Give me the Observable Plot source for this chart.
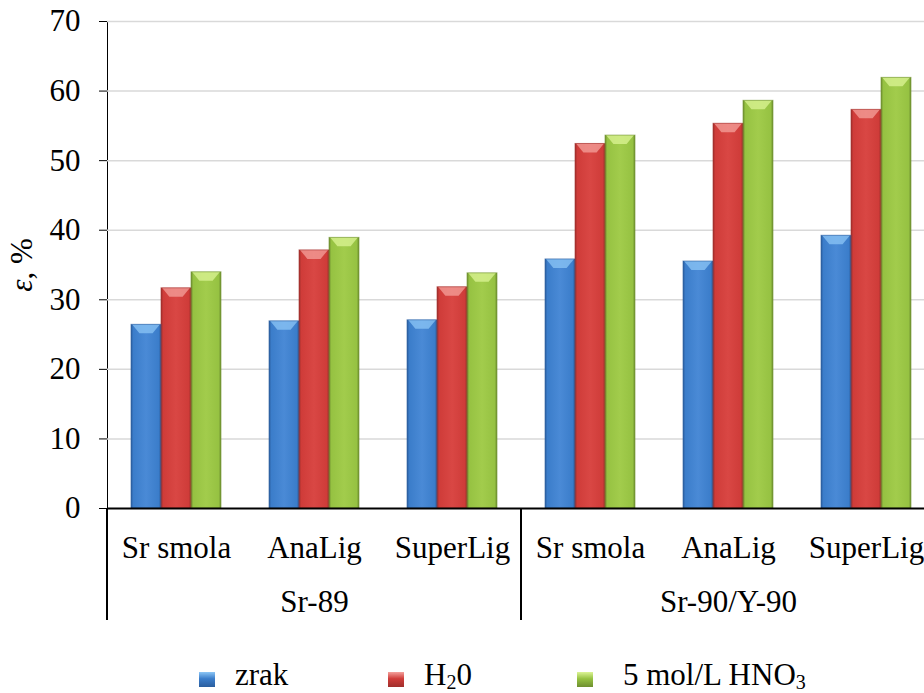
<!DOCTYPE html>
<html><head><meta charset="utf-8">
<script src="https://cdn.jsdelivr.net/npm/d3@7"></script>
<script src="https://cdn.jsdelivr.net/npm/@observablehq/plot@0.6"></script>
<style>
body{margin:0;background:#fff;font-family:"Liberation Serif","Times New Roman",serif;}
#wrap{position:relative;width:924px;height:693px;overflow:hidden;background:#fff;}
#legend{position:absolute;left:0;top:660px;display:flex;padding-left:199px;font-size:31px;line-height:30px;color:#000;white-space:nowrap;}
.item{width:189px;display:flex;align-items:flex-start;}
.sw{width:16px;height:15px;margin-top:12px;margin-right:20px;flex:none;}
.item:last-child .sw{margin-right:30px;}
sub{font-size:20px;vertical-align:-4px;line-height:0;}
#chart svg text{font-family:"Liberation Serif","Times New Roman",serif;}
</style></head><body><div id="wrap"><div id="chart"></div><div id="legend"></div></div>
<script>
const groups = ["Sr-89", "Sr-89", "Sr-89", "Sr-90/Y-90", "Sr-90/Y-90", "Sr-90/Y-90"];
const categories = ["Sr smola", "AnaLig", "SuperLig", "Sr smola", "AnaLig", "SuperLig"];
const seriesNames = ["zrak", "H2 0", "5 mol/L HNO3"];
const seriesLabels = ["zrak", "H<sub>2</sub>0", "5 mol/L HNO<sub>3</sub>"];
const zrak = [26.4, 26.9, 27.05, 35.8, 35.5, 39.2];
const h2o = [31.65, 37.1, 31.8, 52.4, 55.3, 57.3];
const hno3 = [33.95, 38.9, 33.8, 53.6, 58.6, 61.9];
const yTicks = [0, 10, 20, 30, 40, 50, 60, 70];
const groupNames = ["Sr-89", "Sr-90/Y-90"];

const seriesColors = [
  {id: "gBlue", dark: "#2b5e9e", main: "#3b7dca", light: "#4a8ad6", top: "#8cc6f6"},
  {id: "gRed", dark: "#a02f2c", main: "#cf3c39", light: "#d94744", top: "#f4a19c"},
  {id: "gGreen", dark: "#6e8f30", main: "#96c242", light: "#a2cc4c", top: "#dcf496"}
];

const keys = categories.map((c, i) => groups[i] + "|" + c);
const seriesValues = [zrak, h2o, hno3];
const rows = [];
keys.forEach((k, i) => seriesNames.forEach((s, j) => rows.push({key: k, series: s, si: j, value: seriesValues[j][i], fill: `url(#${seriesColors[j].id})`})));
const groupLabels = groupNames.map(g => ({key: keys[groups.indexOf(g) + 1], label: g}));

const plot = Plot.plot({
  width: 924, height: 650,
  marginLeft: 107, marginRight: -11, marginTop: 21, marginBottom: 142,
  style: {fontFamily: "'Liberation Serif', 'Times New Roman', serif", fontSize: "31px", color: "#000", background: "white", overflow: "hidden"},
  fx: {domain: keys, padding: 0, tickFormat: k => k.split("|")[1], tickSize: 0, tickPadding: 27, label: null, fontSize: 31},
  x: {domain: seriesNames, paddingInner: 0, paddingOuter: 0.726, axis: null},
  y: {domain: [0, 70], ticks: yTicks, tickSize: 8, tickPadding: 19, label: "ε, %", labelArrow: "none", labelAnchor: "center", labelOffset: 98, line: true, fontSize: 31},
  color: {type: "identity"},
  marks: [
    Plot.gridY(yTicks.slice(1), {stroke: "#d9d9d9", strokeOpacity: 1, strokeWidth: 1.5}),
    Plot.barY(rows, {fx: "key", x: "series", y: "value", fill: "fill", stroke: "fill", strokeWidth: 0}),
    Plot.ruleY([0], {stroke: "#000", strokeWidth: 2}),
    Plot.text(groupLabels, {fx: "key", text: "label", frameAnchor: "bottom", dy: 103, fontSize: 31})
  ]
});

const svg = d3.select(plot.tagName === "svg" ? plot : plot.querySelector("svg"));
const defs = svg.insert("defs", ":first-child");
seriesColors.forEach(c => {
  const g = defs.append("linearGradient").attr("id", c.id).attr("x1", 0).attr("x2", 1).attr("y1", 0).attr("y2", 0);
  [[0, c.dark], [0.08, c.main], [0.5, c.light], [0.92, c.main], [1, c.dark]].forEach(([o, col]) =>
    g.append("stop").attr("offset", o).attr("stop-color", col));
});

// bevelled tops drawn over the bars Plot produced
svg.selectAll("rect").each(function() {
  const f = this.getAttribute("fill");
  const c = seriesColors.find(s => f === `url(#${s.id})`);
  if (!c) return;
  const r = this, x = +r.getAttribute("x"), yy = +r.getAttribute("y"), w = +r.getAttribute("width");
  d3.select(r.parentNode).append("polygon")
    .attr("points", [[x + 1, yy], [x + w - 1, yy], [x + w * 0.72, yy + 9], [x + w * 0.28, yy + 9]].map(p => p.join(",")).join(" "))
    .attr("fill", c.top).attr("fill-opacity", 0.75);
  d3.select(r.parentNode).append("rect").attr("x", x).attr("y", yy).attr("width", w).attr("height", r.getAttribute("height"))
    .attr("fill", "none").attr("stroke", c.dark).attr("stroke-opacity", 0.6).attr("stroke-width", 1);
});

// separators below the category axis, positioned with the fx and y scales
const fx = plot.scale("fx"), y = plot.scale("y");
const y0 = y.apply(0);
const sepX = groupNames.map(g => fx.apply(keys[groups.indexOf(g)]));
sepX.forEach(x => svg.append("line").attr("x1", x).attr("x2", x).attr("y1", y0).attr("y2", y0 + 112)
  .attr("stroke", "#000").attr("stroke-width", 2));

// italic epsilon in the y label
svg.selectAll("text").filter(function() { return this.textContent.startsWith("ε"); }).each(function() {
  const t = d3.select(this);
  t.text("").attr("font-size", 31);
  t.append("tspan").attr("font-style", "italic").text("ε");
  t.append("tspan").text(", %");
});

document.getElementById("chart").appendChild(plot);

const legend = d3.select("#legend");
seriesLabels.forEach((s, j) => {
  const it = legend.append("div").attr("class", "item");
  it.append("div").attr("class", "sw").style("background", `linear-gradient(180deg, ${seriesColors[j].top}, ${seriesColors[j].main} 45%, ${seriesColors[j].dark})`);
  it.append("span").html(s);
});
</script></body></html>
